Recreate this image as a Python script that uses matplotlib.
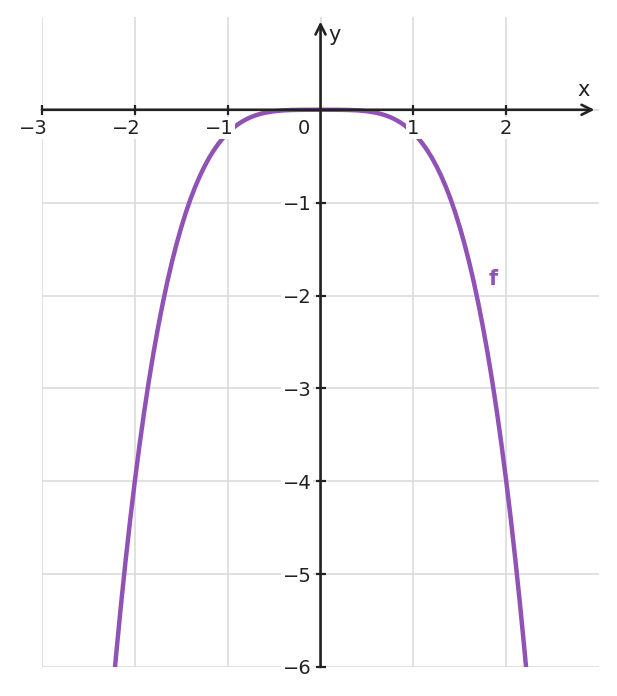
import matplotlib.pyplot as plt
import numpy as np

half_x = [0.0, 0.1, 0.2, 0.3, 0.4, 0.5, 0.6, 0.65, 0.7, 0.75, 0.8, 0.85, 0.9, 0.95,
          1.0, 1.05, 1.1, 1.15, 1.2, 1.25, 1.3, 1.35, 1.4, 1.45, 1.5, 1.55, 1.6,
          1.65, 1.7, 1.75, 1.8, 1.85, 1.9, 1.95, 2.0, 2.05, 2.1, 2.15, 2.2, 2.25]
half_y = [0.0, -0.000025, -0.0004, -0.002, -0.0064, -0.0156, -0.0324, -0.0446,
          -0.060, -0.0791, -0.1024, -0.1305, -0.164, -0.2036, -0.25, -0.3039,
          -0.366, -0.4372, -0.518, -0.6104, -0.714, -0.8304, -0.960, -1.1051,
          -1.266, -1.443, -1.638, -1.853, -2.088, -2.345, -2.624, -2.928, -3.258,
          -3.615, -4.0, -4.415, -4.862, -5.342, -5.856, -6.407]

xs = [-v for v in reversed(half_x)] + half_x[1:]
ys = list(reversed(half_y)) + half_y[1:]

xticks = [-3, -2, -1, 1, 2]
yticks = [-6, -5, -4, -3, -2, -1]

purple = '#9152b6'
dark = '#222222'

fig = plt.figure(figsize=(6.17, 6.96), dpi=100)
ax = fig.add_axes([0.068, 0.0417, 0.903, 0.934])
ax.set_xlim(-3, 3)
ax.set_ylim(-6, 1)

# rejilla gris solo en los ticks
for gx in [-3, -2, -1, 0, 1, 2]:
    ax.axvline(gx, color='#d9d9d9', lw=1.1, zorder=0)
for gy in [-6, -5, -4, -3, -2, -1, 0]:
    ax.axhline(gy, color='#d9d9d9', lw=1.1, zorder=0)

ax.plot(xs, ys, color=purple, lw=3.2, zorder=3, solid_joinstyle='round')

for s in ax.spines.values():
    s.set_visible(False)
ax.spines['left'].set_position(('data', 0))
ax.spines['bottom'].set_position(('data', 0))

# ejes con flecha
ax.annotate('', xy=(2.95, 0), xytext=(-3, 0),
            arrowprops=dict(arrowstyle='->', color=dark, lw=1.9,
                            mutation_scale=18, shrinkA=0, shrinkB=0), zorder=4)
ax.annotate('', xy=(0, 0.95), xytext=(0, -6),
            arrowprops=dict(arrowstyle='->', color=dark, lw=1.9,
                            mutation_scale=18, shrinkA=0, shrinkB=0), zorder=4)

ax.set_xticks(xticks)
ax.set_yticks(yticks)
ax.set_xticklabels([])
ax.set_yticklabels(['\u2212' + str(-v) for v in yticks])
ax.tick_params(direction='inout', length=7, width=1.6, color=dark,
               labelsize=14, labelcolor=dark, pad=3)
for lab in ax.get_yticklabels():
    lab.set_bbox(dict(facecolor='white', edgecolor='none', pad=1))
    lab.set_zorder(5)

# etiquetas del eje x: el digito queda centrado en el tick, el signo cuelga a la izquierda
box = dict(facecolor='white', edgecolor='none', pad=1)
for v in xticks:
    txt = '\u2212' + str(-v) if v < 0 else str(v)
    dx = -5.9 if v < 0 else 0
    ax.annotate(txt, xy=(v, 0), xytext=(dx, -6.5), textcoords='offset points',
                fontsize=14, color=dark, ha='center', va='top', bbox=box, zorder=5)

ax.text(-0.18, -0.1, '0', fontsize=14, color=dark, ha='center', va='top')
ax.text(2.83, 0.1, 'x', fontsize=15, color=dark, ha='center', va='bottom')
ax.text(0.08, 0.8, 'y', fontsize=15, color=dark, ha='left', va='center')
ax.text(1.86, -1.82, 'f', fontsize=15, color=purple, fontweight='bold',
        ha='center', va='center')

fig.savefig('out.png', dpi=100)
